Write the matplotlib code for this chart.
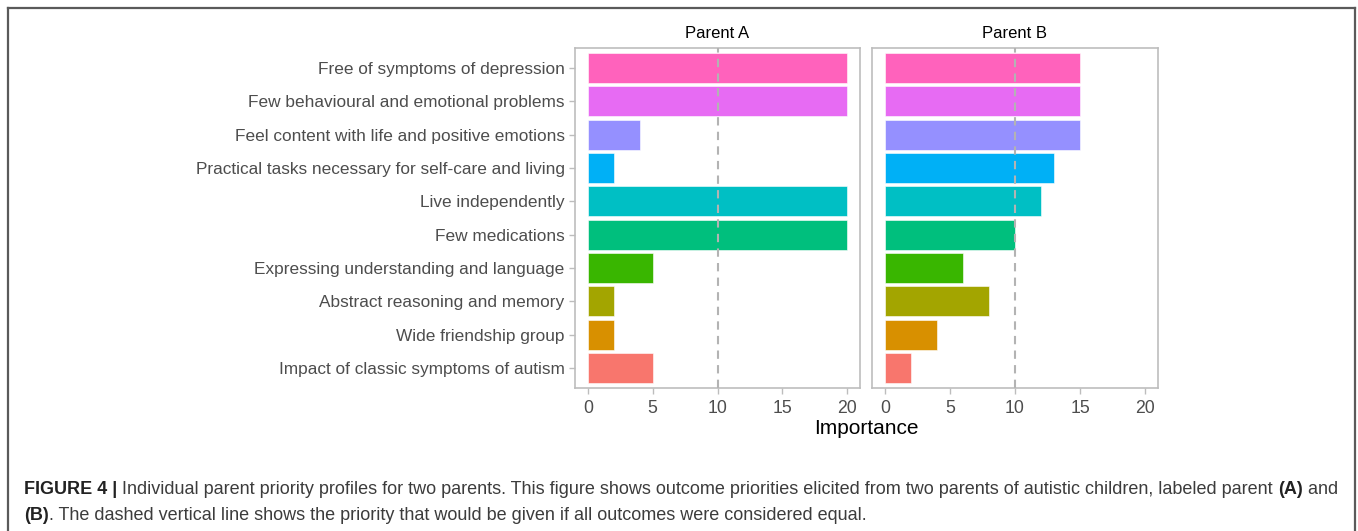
import matplotlib
matplotlib.use("Agg")
import matplotlib.pyplot as plt
from matplotlib.lines import Line2D

categories = [
    "Free of symptoms of depression",
    "Few behavioural and emotional problems",
    "Feel content with life and positive emotions",
    "Practical tasks necessary for self-care and living",
    "Live independently",
    "Few medications",
    "Expressing understanding and language",
    "Abstract reasoning and memory",
    "Wide friendship group",
    "Impact of classic symptoms of autism",
]
parent_a = [20, 20, 4, 2, 20, 20, 5, 2, 2, 5]
parent_b = [15, 15, 15, 13, 12, 10, 6, 8, 4, 2]
colors = ["#FF62BC", "#E76BF3", "#9590FF", "#00B0F6", "#00BFC4",
          "#00BF7D", "#39B600", "#A3A500", "#D89000", "#F8766D"]
panel_titles = ["Parent A", "Parent B"]
xticks = [0, 5, 10, 15, 20]
equal_line = 10

plt.rcParams['font.family'] = ['Liberation Sans', 'DejaVu Sans']

W, H = 1358, 531
fig = plt.figure(figsize=(W / 100, H / 100), dpi=100)

def fx(px):
    return px / W

def fy(py):
    return 1 - py / H

axA = fig.add_axes([fx(575), fy(388), fx(860) - fx(575), fy(48) - fy(388)])
axB = fig.add_axes([fx(872), fy(388), fx(1158) - fx(872), fy(48) - fy(388)])

n = len(categories)
ypos = list(range(n, 0, -1))
for ax, vals, title in zip([axA, axB], [parent_a, parent_b], panel_titles):
    ax.barh(ypos, vals, height=0.9, color=colors, edgecolor="white", linewidth=0.4)
    ax.axvline(equal_line, color="#B3B3B3", linestyle=(0, (4, 3)), linewidth=1.5, zorder=3)
    ax.set_xlim(-1, 21)
    ax.set_ylim(0.4, n + 0.6)
    ax.set_xticks(xticks)
    ax.set_xticklabels([str(t) for t in xticks])
    ax.set_title(title, fontsize=12, color="black", pad=7)
    for sp in ax.spines.values():
        sp.set_color("#BDBDBD")
        sp.set_linewidth(1.2)
    ax.tick_params(axis="both", colors="#BDBDBD", length=4, width=1.0, labelsize=12.7,
                   labelcolor="#4D4D4D", pad=4.5)

axA.set_yticks(ypos)
axA.set_yticklabels(categories, fontsize=12.4)
axA.tick_params(axis="y", pad=3.5)
axB.set_yticks([])

fig.text(fx(866), fy(429), "Importance", fontsize=15, color="black", ha="center", va="center")

# border around figure (top, left, right)
border_col = "#5A5A5A"
fig.add_artist(Line2D([fx(8), fx(1355)], [fy(8), fy(8)], color=border_col, lw=1.6, transform=fig.transFigure))
fig.add_artist(Line2D([fx(8), fx(8)], [fy(8), 0], color=border_col, lw=1.6, transform=fig.transFigure))
fig.add_artist(Line2D([fx(1355), fx(1355)], [fy(8), 0], color=border_col, lw=1.6, transform=fig.transFigure))

# caption with mixed bold/regular segments
fig.canvas.draw()
renderer = fig.canvas.get_renderer()

def draw_segments(x0, y0, segments, size):
    x = x0
    arts = []
    for txt, weight, col in segments:
        t = fig.text(x, y0, txt, fontsize=size, fontweight=weight, color=col,
                     ha="left", va="center")
        bb = t.get_window_extent(renderer=renderer)
        x = x + bb.width / W
        arts.append(t)
    return arts, (x - x0) * W

cap_col = "#3C3C3C"
bold_col = "#222222"
line1 = [
    ("FIGURE 4 | ", "bold", bold_col),
    ("Individual parent priority profiles for two parents. This figure shows outcome priorities elicited from two parents of autistic children, labeled parent ", "normal", cap_col),
    ("(A)", "bold", bold_col),
    (" and", "normal", cap_col),
]
line2 = [
    ("(B)", "bold", bold_col),
    (". The dashed vertical line shows the priority that would be given if all outcomes were considered equal.", "normal", cap_col),
]
base = 11.3
arts, width = draw_segments(fx(24), fy(489), line1, base)
for a in arts:
    a.remove()
size = base * (1338 - 24) / width
draw_segments(fx(24), fy(489), line1, size)
draw_segments(fx(24), fy(516), line2, size)

fig.savefig("out.png", dpi=100)
